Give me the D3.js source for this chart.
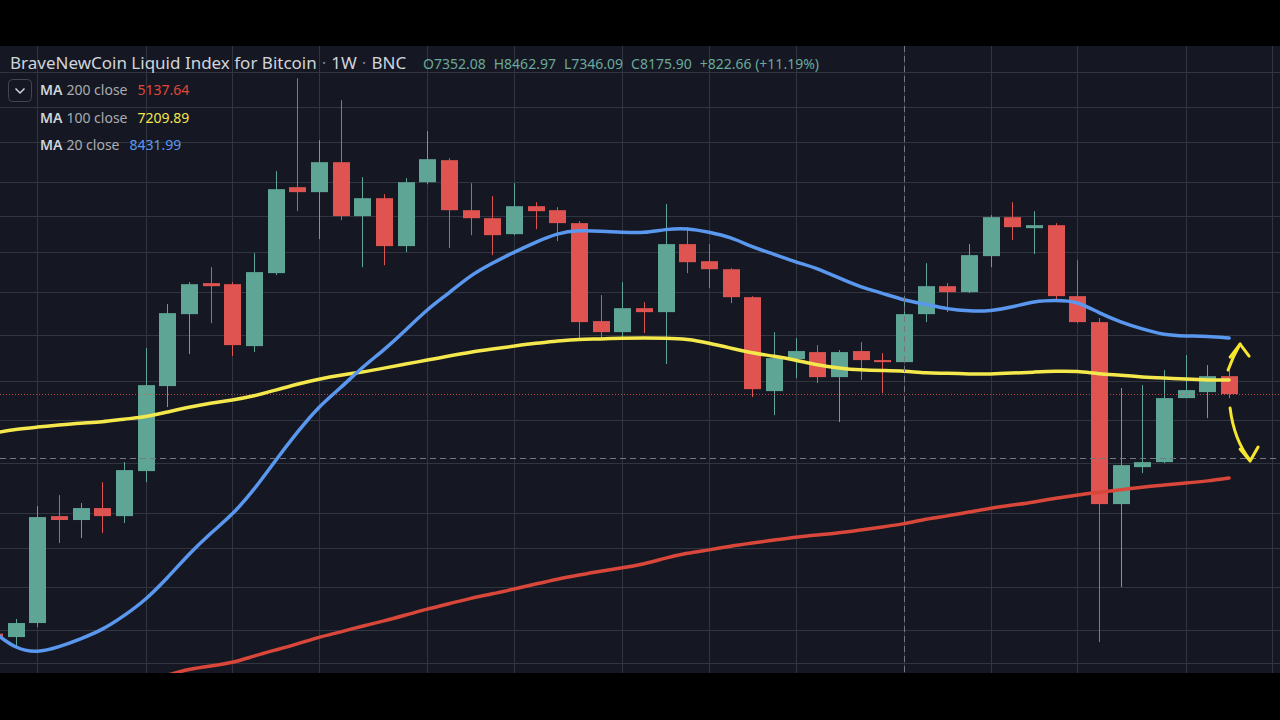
<!DOCTYPE html>
<html lang="en">
<head>
<meta charset="UTF-8">
<title>BraveNewCoin Liquid Index for Bitcoin 1W</title>
<script src="https://d3js.org/d3.v7.min.js"></script>
<style>
  body { margin: 0; background: #000; }
  svg { display: block; font-family: "Noto Sans", "DejaVu Sans", sans-serif; }
  .grid line { stroke: #31353f; stroke-width: 1; }
  .ma { fill: none; stroke-width: 3.5; stroke-linejoin: round; stroke-linecap: round; }
  .arrow { fill: none; stroke: #f6e62e; stroke-width: 3; stroke-linecap: round; stroke-linejoin: round; }
</style>
</head>
<body>
<svg width="1280" height="720"></svg>
<script>
// weekly candles, week -1 is the one cut off at the left edge
const firstWeek = -1;
const opens  = [4030, 4000, 4126, 5228, 5183, 5322, 5228, 5776, 6972, 8176, 8757, 8737, 7617, 8953, 10830, 10711, 11446, 10157, 10569, 9505,
                10950, 11497, 10292, 10111, 9760, 10383, 10292, 10001, 8051, 7857, 8285, 8212, 9547, 9193, 9031, 8489, 6895, 7401, 7517, 7112,
                7534, 7385, 7352.08, 8176, 8698, 8584, 9296, 10134, 9890, 9956, 8508, 8033, 5369, 5827, 5892, 6789, 6880, 7127];
const highs  = [4110, 4163, 5345, 5477, 5381, 5637, 5892, 7584, 8359, 8776, 9073, 8776, 9358, 11220, 13784, 12017, 13129, 11071, 10664, 11047,
                12259, 11548, 10926, 10616, 10926, 10476, 10360, 10045, 8527, 8776, 8396, 10430, 9912, 9547, 9052, 8508, 7857, 7753, 7634, 7550,
                7685, 7500, 8462.97, 9153, 8757, 9547, 10180, 10476, 10270, 10001, 9213, 8105, 6941, 6987, 7223, 7467, 7303, 7223];
const lows   = [3930, 3912, 4089, 4925, 4980, 5036, 5149, 5637, 6655, 7484, 8015, 7450, 7517, 8913, 10270, 9653, 10067, 9072, 9112, 9379,
                10901, 9463, 9738, 9317, 9738, 9868, 9610, 7753, 7736, 7770, 7840, 7320, 8953, 8660, 8377, 6804, 6538, 7096, 7018, 6438,
                7065, 6865, 7346.09, 8033, 8212, 8565, 9072, 9631, 9338, 8396, 8015, 3956, 4468, 5750, 5879, 6789, 6495, 6789];
const closes = [4000, 4126, 5217, 5183, 5322, 5228, 5789, 6987, 8194, 8737, 8698, 7634, 8973, 10782, 10711, 11446, 10157, 10569, 9505, 10950,
                11522, 10292, 10111, 9738, 10383, 10270, 10001, 8033, 7857, 8285, 8212, 9547, 9173, 9031, 8489, 6925, 7417, 7534, 7112, 7517,
                7385, 7352, 8175.90, 8698, 8584, 9317, 10134, 9912, 9956, 8508, 8033, 5369, 5853, 5892, 6789, 6910, 7127, 6850];

// moving averages, same weeks as the candles
const ma20  = [4045, 3896, 3862, 3913, 3983, 4063, 4191, 4342, 4558, 4807, 5036, 5241, 5539, 5918, 6297, 6670, 6942, 7272, 7551, 7892,
               8267, 8565, 8914, 9153, 9379, 9589, 9782, 9847, 9825, 9803, 9782, 9869, 9891, 9803, 9696, 9484, 9338, 9173, 9053, 8855,
               8680, 8565, 8432, 8359, 8267, 8230, 8230, 8304, 8415, 8434, 8415, 8194, 8033, 7910, 7805, 7788, 7788, 7754];
const ma100 = [6283, 6339, 6367, 6396, 6424, 6438, 6481, 6510, 6582, 6656, 6714, 6759, 6820, 6911, 7003, 7081, 7144, 7191, 7255, 7320,
               7385, 7451, 7517, 7567, 7617, 7668, 7702, 7737, 7737, 7754, 7754, 7754, 7737, 7668, 7584, 7500, 7451, 7385, 7304, 7255,
               7223, 7215, 7210, 7175, 7175, 7160, 7160, 7175, 7191, 7207, 7207, 7160, 7144, 7113, 7097, 7081, 7066, 7066];
const ma200 = [null, null, null, null, null, null, null, null, 3677, 3727, 3752, 3777, 3836, 3887, 3939, 4000, 4045, 4099, 4144, 4200,
               4257, 4304, 4361, 4400, 4449, 4498, 4548, 4589, 4629, 4661, 4702, 4765, 4818, 4850, 4893, 4925, 4958, 4991, 5014, 5036,
               5070, 5104, 5138, 5195, 5229, 5275, 5322, 5358, 5393, 5441, 5477, 5514, 5539, 5576, 5600, 5625, 5650, 5688];

const gridPrices = [13970, 12930, 11960, 10950, 10160, 9380, 8580, 7800, 7050, 6470, 5880, 5260, 4870, 4470, 4060, 3780];
const gridWeeks = [1, 6, 10, 14, 19, 23, 28, 32, 36, 41, 45, 49, 54, 58]; // month starts

const crossWeek = 41;
const crossPrice = 5950;

const title = ["BraveNewCoin Liquid Index for Bitcoin", "1W", "BNC"];
const ohlcText = ["O7352.08", "H8462.97", "L7346.09", "C8175.90", "+822.66 (+11.19%)"];
const maLegend = [
    { name: "MA", args: "200 close", value: "5137.64", color: "#e0463b" },
    { name: "MA", args: "100 close", value: "7209.89", color: "#f3e54b" },
    { name: "MA", args: "20 close",  value: "8431.99", color: "#5b97ef" }
];

const upColor = "#5fa596", downColor = "#df5350";

const svg = d3.select("svg");
const plot = { top: 46, bottom: 673, left: 0, right: 1280 };

// price axis is logarithmic
const x = d3.scaleLinear().domain([0, 56]).range([15.6, 1229.1]);
const y = d3.scaleLog().domain([3694, 14803]).range([plot.bottom, plot.top]);

svg.append("rect").attr("width", 1280).attr("height", 720).attr("fill", "#000");
svg.append("rect")
    .attr("x", plot.left).attr("y", plot.top)
    .attr("width", plot.right - plot.left).attr("height", plot.bottom - plot.top)
    .attr("fill", "#151822");

svg.append("clipPath").attr("id", "clip")
    .append("rect")
    .attr("x", plot.left).attr("y", plot.top)
    .attr("width", plot.right - plot.left).attr("height", plot.bottom - plot.top);

const g = svg.append("g").attr("clip-path", "url(#clip)");

// grid
const grid = g.append("g").attr("class", "grid");
grid.selectAll(".h").data(gridPrices).join("line")
    .attr("x1", plot.left).attr("x2", plot.right)
    .attr("y1", d => Math.round(y(d)) + 0.5).attr("y2", d => Math.round(y(d)) + 0.5);
grid.selectAll(".v").data(gridWeeks).join("line")
    .attr("y1", plot.top).attr("y2", plot.bottom)
    .attr("x1", d => Math.round(x(d)) + 0.5).attr("x2", d => Math.round(x(d)) + 0.5);

// candles
const candles = opens.map((o, k) => ({
    week: firstWeek + k, o: o, h: highs[k], l: lows[k], c: closes[k]
}));
const bodyW = 17;

const cg = g.append("g");
cg.selectAll("line").data(candles).join("line")
    .attr("x1", d => Math.round(x(d.week)) + 0.5).attr("x2", d => Math.round(x(d.week)) + 0.5)
    .attr("y1", d => y(d.h)).attr("y2", d => y(d.l))
    .attr("stroke", d => d.c >= d.o ? upColor : downColor)
    .attr("stroke-width", 1);
cg.selectAll("rect").data(candles).join("rect")
    .attr("x", d => Math.round(x(d.week)) - Math.floor(bodyW / 2))
    .attr("width", bodyW)
    .attr("y", d => y(Math.max(d.o, d.c)))
    .attr("height", d => Math.max(1.5, y(Math.min(d.o, d.c)) - y(Math.max(d.o, d.c))))
    .attr("fill", d => d.c >= d.o ? upColor : downColor);

// last price line
const lastClose = closes[closes.length - 1];
g.append("line")
    .attr("x1", plot.left).attr("x2", plot.right)
    .attr("y1", Math.round(y(lastClose)) + 0.5).attr("y2", Math.round(y(lastClose)) + 0.5)
    .attr("stroke", downColor).attr("stroke-opacity", 0.8)
    .attr("stroke-dasharray", "1,2");

// moving averages
const maLine = d3.line()
    .defined(d => d.v != null)
    .x(d => x(d.week))
    .y(d => y(d.v))
    .curve(d3.curveBasis);

[[ma200, "#d9463a"], [ma100, "#f4e84d"], [ma20, "#5a97ef"]].forEach(([vals, color]) => {
    g.append("path")
        .datum(vals.map((v, k) => ({ week: firstWeek + k, v: v })))
        .attr("class", "ma")
        .attr("stroke", color)
        .attr("d", maLine);
});

// crosshair
g.append("line")
    .attr("x1", Math.round(x(crossWeek)) + 0.5).attr("x2", Math.round(x(crossWeek)) + 0.5)
    .attr("y1", plot.top).attr("y2", plot.bottom)
    .attr("stroke", "#737783").attr("stroke-dasharray", "6,4");
g.append("line")
    .attr("x1", plot.left).attr("x2", plot.right)
    .attr("y1", Math.round(y(crossPrice)) + 0.5).attr("y2", Math.round(y(crossPrice)) + 0.5)
    .attr("stroke", "#737783").attr("stroke-dasharray", "6,4");

// hand drawn arrows next to the last candle
const ax = x(56), ay = y(lastClose);
const arrows = g.append("g").attr("class", "arrow");
arrows.append("path").attr("d", `M${ax - 1},${ay - 24} Q${ax + 4},${ay - 38} ${ax + 11},${ay - 50}`);
arrows.append("path").attr("d", `M${ax + 1},${ay - 37} L${ax + 11},${ay - 50} L${ax + 20},${ay - 38}`);
arrows.append("path").attr("d", `M${ax + 1},${ay + 14} Q${ax + 5},${ay + 46} ${ax + 21},${ay + 66}`);
arrows.append("path").attr("d", `M${ax + 11},${ay + 55} L${ax + 21},${ay + 67} L${ax + 29},${ay + 53}`);

// legend
const lg = svg.append("g");
const titleText = lg.append("text")
    .attr("x", 10).attr("y", 69)
    .attr("font-size", 17).attr("fill", "#d1d4dc");
titleText.append("tspan").text(title[0]);
titleText.append("tspan").attr("fill", "#787b86").attr("dx", 5).text("·");
titleText.append("tspan").attr("dx", 5).text(title[1]);
titleText.append("tspan").attr("fill", "#787b86").attr("dx", 5).text("·");
titleText.append("tspan").attr("dx", 5).text(title[2]);

let ox = 423;
ohlcText.forEach(t => {
    const el = lg.append("text")
        .attr("x", ox).attr("y", 69)
        .attr("font-size", 14).attr("fill", "#6aa89c")
        .text(t);
    ox += el.node().getComputedTextLength() + 8;
});

lg.append("rect")
    .attr("x", 8.5).attr("y", 79.5).attr("width", 23).attr("height", 22).attr("rx", 4)
    .attr("fill", "none").attr("stroke", "#434651");
lg.append("path")
    .attr("d", "M15.5,88.5 L20,93 L24.5,88.5")
    .attr("fill", "none").attr("stroke", "#d1d4dc").attr("stroke-width", 1.5);

maLegend.forEach((m, k) => {
    const t = lg.append("text")
        .attr("x", 40).attr("y", 95 + k * 27.5)
        .attr("font-size", 14);
    t.append("tspan").attr("fill", "#d1d4dc").attr("font-weight", 600).text(m.name);
    t.append("tspan").attr("fill", "#a9acb5").attr("dx", 4).text(m.args);
    t.append("tspan").attr("fill", m.color).attr("dx", 10).text(m.value);
});
</script>
</body>
</html>
